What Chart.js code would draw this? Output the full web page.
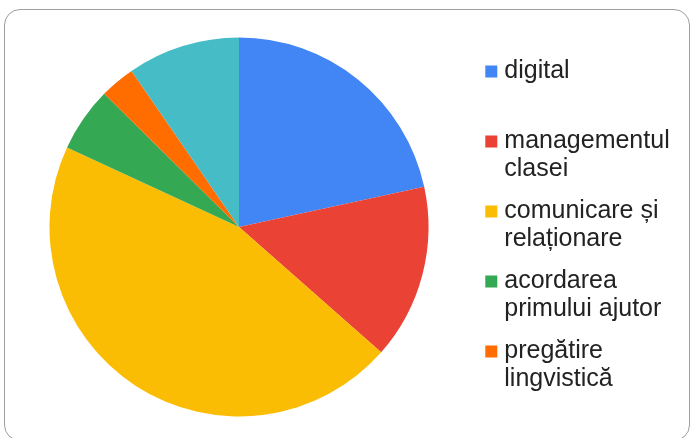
<!DOCTYPE html>
<html>

<head>
    <title>Pie</title>
    <script src="https://cdn.jsdelivr.net/npm/chart.js"></script>
    <style>
        body {
            margin: 0;
            background: #ffffff;
        }

        .chart-container {
            position: absolute;
            left: 4px;
            top: 9px;
            width: 684px;
            height: 430px;
            border: 1px solid #9e9e9e;
            border-radius: 16px;
            background: #ffffff;
        }

        #pieChart {
            position: absolute;
            left: -4px;
            top: 0;
        }
    </style>
</head>

<body>

    <div class="chart-container">
        <canvas id="pieChart" width="684" height="430"></canvas>
    </div>

    <script>
        const ctx = document.getElementById('pieChart').getContext('2d');

        // legend text, split in lines like the original
        const categories = [
            ['digital', ''],
            ['managementul', 'clasei'],
            ['comunicare și', 'relaționare'],
            ['acordarea', 'primului ajutor'],
            ['pregătire', 'lingvistică'],
            ['altele', '']
        ];
        // shares in percent
        const values = [21.6, 14.9, 45.4, 5.5, 3.0, 9.6];
        const colors = ['#4285f4', '#ea4335', '#fbbc04', '#34a853', '#ff6d01', '#46bdc6'];
        const legendCount = 5; // only the first five are shown in the legend

        const pieChart = new Chart(ctx, {
            type: 'pie',
            data: {
                labels: categories,
                datasets: [{
                    data: values,
                    backgroundColor: colors,
                    borderWidth: 0,
                    hoverOffset: 0
                }]
            },
            options: {
                responsive: false,
                animation: false,
                layout: {
                    padding: { left: 0.2, right: 8.2, top: 27.5, bottom: 23.5 }
                },
                plugins: {
                    tooltip: { enabled: false },
                    legend: {
                        position: 'right',
                        maxWidth: 200,
                        labels: {
                            usePointStyle: true,
                            pointStyle: 'rect',
                            boxWidth: 1,
                            boxHeight: 12,
                            padding: 14,
                            color: '#222222',
                            font: { family: '"Liberation Sans", Arial, sans-serif', size: 25, lineHeight: '28px' },
                            filter: item => item.index < legendCount
                        }
                    }
                }
            }
        });
    </script>
</body>

</html>
